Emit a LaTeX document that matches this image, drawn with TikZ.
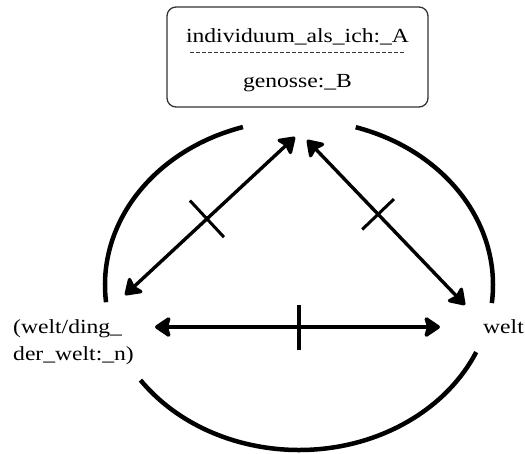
\documentclass[tikz,border=0pt]{standalone}
\usepackage{fontspec}
\setmainfont{Liberation Serif}[FakeStretch=1.18]
\usetikzlibrary{arrows.meta,calc}
\begin{document}
\begin{tikzpicture}[x=1pt,y=-1pt,
  lbl/.style={inner sep=0pt, font=\fontsize{20}{27}\selectfont},
  topbox/.style={draw=black!80, line width=1.3pt, rounded corners=9pt, minimum width=261pt, minimum height=100pt, inner sep=0pt},
  link/.style={line width=3.4pt, {Stealth[length=18pt,width=24pt,inset=3.5pt,round]}-{Stealth[length=18pt,width=24pt,inset=3.5pt,round]}},
  tickmark/.style={line width=3pt},
  ring/.style={line width=4.5pt}]
\useasboundingbox (0,0) rectangle (525,453);

% top box
\node[topbox] (top) at (297.5,57) {};
\node[lbl, anchor=base] (ich) at (297.5,42) {individuum\_als\_ich:\_A};
\node[lbl, anchor=base] (gen) at (297.5,87) {genosse:\_B};
\coordinate (d1) at (190,52);
\coordinate (d2) at (405,52);
\draw[black!80, line width=0.8pt, dash pattern=on 4pt off 2pt] (d1) -- (d2);

% side labels
\node[lbl, anchor=base west, align=left] (ding) at (13,360) {(welt/ding\_\\der\_welt:\_n)};
\node[lbl, anchor=base west] (welt) at (483,333) {welt};

% ring arcs
\coordinate (c) at (299,285);
\draw[ring] (c) ++(-106.8:194 and 165) arc[start angle=-106.8, end angle=-186, x radius=194, y radius=165];
\draw[ring] (c) ++(-73:194 and 165) arc[start angle=-73, end angle=6.3, x radius=194, y radius=165];
\draw[ring] (c) ++(144.8:194 and 165) arc[start angle=144.8, end angle=24, x radius=194, y radius=165];

% arrow end points
\coordinate (L1) at (125,295);
\coordinate (T1) at (295,137);
\coordinate (T2) at (307,140);
\coordinate (R1) at (465,305);
\coordinate (L2) at (155,327);
\coordinate (R2) at (440,327);

\draw[link] (L1) -- (T1);
\draw[link] (T2) -- (R1);
\draw[link, line width=3.6pt] (L2) -- (R2);

% tick marks
\coordinate (m1) at ($(L1)!0.482!(T1)$);
\draw[tickmark] ($(m1)!25pt!90:(T1)$) -- ($(m1)!25pt!-90:(T1)$);
\coordinate (m2) at ($(T2)!0.45!(R1)$);
\draw[tickmark] ($(m2)!22pt!90:(R1)$) -- ($(m2)!22pt!-90:(R1)$);
\coordinate (m3) at ($(L2)!0.505!(R2)$);
\draw[tickmark, line width=4pt] ($(m3)!22.5pt!90:(R2)$) -- ($(m3)!22.5pt!-90:(R2)$);
\end{tikzpicture}
\end{document}
